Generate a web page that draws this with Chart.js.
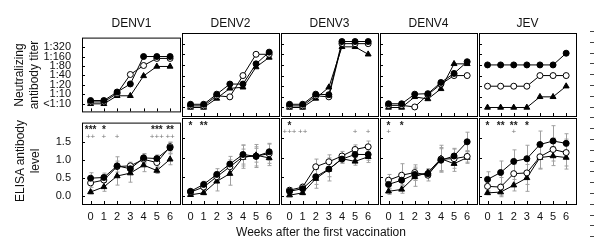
<!DOCTYPE html>
<html>
<head>
<meta charset="utf-8">
<script src="https://cdn.jsdelivr.net/npm/chart.js@4.4.1/dist/chart.umd.min.js"></script>
<style>
  body { margin: 0; background: #fff; width: 594px; height: 246px; overflow: hidden; position: relative;
         font-family: "Liberation Sans", Arial, sans-serif; color: #111; }
  canvas { position: absolute; }
  .txt { position: absolute; font-size: 12px; line-height: 14px; text-align: center; white-space: nowrap; }
  .rot { transform: rotate(-90deg); line-height: 15px; }
  #ruler { position: absolute; left: 590px; top: 31px; width: 4px; height: 208px;
           background: repeating-linear-gradient(to bottom, #444 0 1px, transparent 1px 10.8px); }
</style>
</head>
<body>
<div id="ruler"></div>
<script>
const weeks = [0, 1, 2, 3, 4, 5, 6];
const panelNames = ['DENV1', 'DENV2', 'DENV3', 'DENV4', 'JEV'];
const titerLabels = ['<1:10', '1:10', '1:20', '1:40', '1:80', '1:160', '1:320'];
const titerTicks = [0, 1, 2, 3, 4, 5, 6];
const elisaTicks = [0, 0.5, 1.0, 1.5];

// neutralizing titer, as position on titerLabels (points are nudged apart where they overlap)
const titerFilled = [
  [0.35, 0.35, 1.25, 2.1, 5.0, 5.0, 5.0],
  [0.3, 0.3, 1.25, 2.2, 2.2, 4.1, 5.2],
  [0.3, 0.3, 1.25, 1.2, 6.2, 6.2, 6.2],
  [0.35, 0.35, 1.25, 1.3, 2.35, 3.2, 4.3],
  [4, 4, 4, 4, 4, 4, 5.1],
];
const titerOpen = [
  [0.2, 0.2, 1.1, 3.1, 4.05, 4.8, 4.8],
  [0.15, 0.15, 1.1, 1.0, 3.0, 5.0, 5.0],
  [0.15, 0.15, 1.1, 1.0, 6.0, 6.0, 6.0],
  [0.2, 0.2, 0.05, 1.2, 2.2, 3.0, 3.0],
  [2, 2, 2, 2, 3, 3, 3],
];
const titerTriangle = [
  [0, 0, 0.85, 0.85, 2.95, 3.95, 3.95],
  [0, 0, 0.85, 1.8, 1.9, 3.8, 4.7],
  [0, 0, 0.85, 1.9, 5.7, 5.7, 5.0],
  [0, 0, 1.0, 0.8, 1.75, 4.1, 4.1],
  [0, 0, 0, 0, 1, 1, 2],
];

// ELISA antibody level and error bar half-lengths
const elisaFilled = [
  [0.50, 0.52, 0.84, 0.76, 1.06, 1.04, 1.34],
  [0.12, 0.30, 0.56, 0.83, 1.08, 1.03, 1.15],
  [0.12, 0.19, 0.50, 0.70, 0.96, 1.08, 1.08],
  [0.30, 0.41, 0.56, 0.58, 0.93, 1.04, 1.41],
  [0.43, 0.61, 0.90, 0.97, 1.34, 1.43, 1.37],
];
const elisaOpen = [
  [0.37, 0.45, 0.82, 0.84, 1.02, 0.93, 1.37],
  [0.10, 0.23, 0.50, 0.76, 1.02, 1.04, 1.10],
  [0.15, 0.23, 0.76, 0.89, 1.04, 1.21, 1.28],
  [0.41, 0.54, 0.61, 0.54, 0.96, 0.97, 1.03],
  [0.25, 0.23, 0.58, 0.60, 1.02, 1.21, 1.13],
];
const elisaTriangle = [
  [0.12, 0.26, 0.56, 0.64, 0.86, 0.71, 1.02],
  [0.03, 0.08, 0.38, 0.58, 1.00, 1.06, 0.99],
  [0.02, 0.08, 0.45, 0.69, 0.97, 0.90, 1.02],
  [0.12, 0.17, 0.50, 0.61, 0.97, 0.84, 1.00],
  [0.08, 0.10, 0.28, 0.47, 1.00, 1.04, 1.00],
];
const errFilled = [
  [0.15, 0.12, 0.25, 0.12, 0.12, 0.10, 0.15],
  [0.05, 0.08, 0.15, 0.20, 0.25, 0.25, 0.22],
  [0.05, 0.06, 0.20, 0.20, 0.10, 0.12, 0.15],
  [0.12, 0.12, 0.15, 0.10, 0.30, 0.20, 0.25],
  [0.20, 0.30, 0.30, 0.35, 0.35, 0.40, 0.25],
];
const errOpen = [
  [0.12, 0.15, 0.15, 0.10, 0.12, 0.12, 0.12],
  [0.05, 0.06, 0.12, 0.18, 0.30, 0.30, 0.25],
  [0.06, 0.08, 0.20, 0.18, 0.12, 0.12, 0.15],
  [0.15, 0.30, 0.20, 0.15, 0.30, 0.25, 0.15],
  [0.15, 0.25, 0.25, 0.30, 0.30, 0.30, 0.35],
];
const errTriangle = [
  [0.05, 0.12, 0.25, 0.25, 0.18, 0.08, 0.15],
  [0.03, 0.05, 0.25, 0.30, 0.22, 0.18, 0.20],
  [0.03, 0.05, 0.25, 0.30, 0.12, 0.10, 0.15],
  [0.08, 0.10, 0.25, 0.10, 0.35, 0.20, 0.15],
  [0.05, 0.08, 0.15, 0.35, 0.30, 0.25, 0.30],
];

// significance marks above each week
const sigStars = [
  ['***', '*', '', '', '', '***', '**'],
  ['*', '**', '', '', '', '', ''],
  ['*', '', '', '', '', '', ''],
  ['*', '*', '', '', '', '', ''],
  ['*', '**', '**', '*', '', '', ''],
];
const sigPlus = [
  ['++', '+', '+', '', '', '+++', '++'],
  ['', '', '', '', '', '', ''],
  ['+++', '++', '', '', '', '+', '+'],
  ['+', '', '', '', '', '', ''],
  ['', '', '+', '', '', '', ''],
];

// layout
const panelX = [82, 181, 280, 379, 478];
const panelW = 99;
const rowY = [32, 117];
const rowH = [85, 87];
const FONT = '"Liberation Sans", Arial, sans-serif';

function addText(text, css, cls) {
  const d = document.createElement('div');
  d.className = 'txt' + (cls ? ' ' + cls : '');
  d.innerHTML = text;
  Object.assign(d.style, css);
  document.body.appendChild(d);
}

const panelPlugin = {
  id: 'panel',
  beforeDatasetsDraw(chart) {
    const { ctx, scales: { x, y } } = chart;
    ctx.save();
    ctx.strokeStyle = '#a0a0a0';
    ctx.lineWidth = 1;
    chart.data.datasets.forEach(ds => {
      if (!ds.err) return;
      ds.data.forEach((p, i) => {
        const px = Math.round(x.getPixelForValue(p.x)) + 0.5;
        const y1 = y.getPixelForValue(p.y - ds.err[i]);
        const y2 = y.getPixelForValue(p.y + ds.err[i]);
        ctx.beginPath();
        ctx.moveTo(px, y1); ctx.lineTo(px, y2);
        ctx.moveTo(px - 2, y1); ctx.lineTo(px + 2, y1);
        ctx.moveTo(px - 2, y2); ctx.lineTo(px + 2, y2);
        ctx.stroke();
      });
    });
    ctx.restore();
  },
  afterDraw(chart) {
    const { ctx, chartArea: a, scales: { x, y } } = chart;
    const opts = chart.options.plugins.panel;
    ctx.save();
    ctx.strokeStyle = '#000';
    ctx.lineWidth = 1;
    ctx.strokeRect(a.left + 0.5, a.top + 0.5, a.right - a.left, a.bottom - a.top);
    ctx.beginPath();
    x.ticks.forEach(t => {
      const px = Math.round(x.getPixelForValue(t.value)) + 0.5;
      ctx.moveTo(px, a.bottom); ctx.lineTo(px, a.bottom - 3);
    });
    y.ticks.forEach(t => {
      const py = Math.round(y.getPixelForValue(t.value)) + 0.5;
      ctx.moveTo(a.left, py); ctx.lineTo(a.left + 3, py);
    });
    ctx.stroke();
    if (opts.stars) {
      ctx.textAlign = 'center';
      ctx.textBaseline = 'middle';
      ctx.font = 'bold 10px ' + FONT;
      ctx.fillStyle = '#222';
      opts.stars.forEach((s, i) => { if (s) ctx.fillText(s, x.getPixelForValue(weeks[i]), a.top + 8); });
      ctx.font = '8px ' + FONT;
      ctx.fillStyle = '#777';
      opts.plus.forEach((s, i) => { if (s) ctx.fillText(s, x.getPixelForValue(weeks[i]), a.top + 14); });
    }
    ctx.restore();
  }
};

function series(vals, style, fill, order, err) {
  return {
    data: weeks.map((w, i) => ({ x: w, y: vals[i] })),
    err,
    order,
    borderColor: '#000',
    borderWidth: 1,
    pointStyle: style,
    pointRadius: style === 'triangle' ? 3.4 : 3,
    pointBackgroundColor: fill,
    pointBorderColor: '#000',
    pointBorderWidth: 1,
  };
}

function makePanel(row, col) {
  const left = col === 0 ? 82 : 4;
  const bottom = row === 1 ? 22 : 4;
  const cv = document.createElement('canvas');
  const w = panelW + left + 4, h = rowH[row] + 4 + bottom;
  cv.width = w; cv.height = h;
  cv.style.left = (panelX[col] - left) + 'px';
  cv.style.top = (rowY[row] - 4) + 'px';
  document.body.appendChild(cv);

  const top = row === 0;
  const datasets = top
    ? [series(titerTriangle[col], 'triangle', '#000', 2),
       series(titerOpen[col], 'circle', '#fff', 1),
       series(titerFilled[col], 'circle', '#000', 0)]
    : [series(elisaTriangle[col], 'triangle', '#000', 2, errTriangle[col]),
       series(elisaOpen[col], 'circle', '#fff', 1, errOpen[col]),
       series(elisaFilled[col], 'circle', '#000', 0, errFilled[col])];
  const yTicks = top ? titerTicks : elisaTicks;

  new Chart(cv, {
    type: 'line',
    data: { datasets },
    plugins: [panelPlugin],
    options: {
      responsive: false,
      animation: false,
      layout: { padding: { top: 4, right: 4, left: col === 0 ? 0 : 4, bottom: row === 1 ? 0 : 4 } },
      plugins: {
        legend: { display: false },
        tooltip: { enabled: false },
        panel: top ? {} : { stars: sigStars[col], plus: sigPlus[col] },
      },
      scales: {
        x: {
          type: 'linear', min: -0.65, max: 6.75,
          grid: { display: false }, border: { display: false },
          afterBuildTicks: s => { s.ticks = weeks.map(v => ({ value: v })); },
          afterFit: s => { s.height = bottom === 22 ? 22 : 0; },
          ticks: { display: row === 1, autoSkip: false, maxRotation: 0, padding: -2, color: '#111',
                   font: { family: FONT, size: 11 } },
        },
        y: {
          type: 'linear',
          min: top ? -0.8 : -0.21, max: top ? 7.0 : 2.03,
          grid: { display: false }, border: { display: false },
          afterBuildTicks: s => { s.ticks = yTicks.map(v => ({ value: v })); },
          afterFit: s => { s.width = col === 0 ? 82 : 0; },
          ticks: {
            display: col === 0, autoSkip: false, padding: 3, color: '#111', font: { family: FONT, size: 11 },
            callback: v => top ? titerLabels[v] : v.toFixed(1),
          },
        },
      },
    },
  });
}

for (let r = 0; r < 2; r++) for (let c = 0; c < 5; c++) makePanel(r, c);

panelNames.forEach((n, c) => addText(n, { left: panelX[c] + 'px', top: '16px', width: panelW + 'px' }));
addText('Neutralizing<br>antibody titer', { left: '-32px', top: '59px', width: '120px', height: '32px' }, 'rot');
addText('ELISA antibody<br>level', { left: '-31px', top: '145px', width: '120px', height: '32px' }, 'rot');
addText('Weeks after the first vaccination', { left: '171px', top: '225px', width: '300px' });
</script>
</body>
</html>
